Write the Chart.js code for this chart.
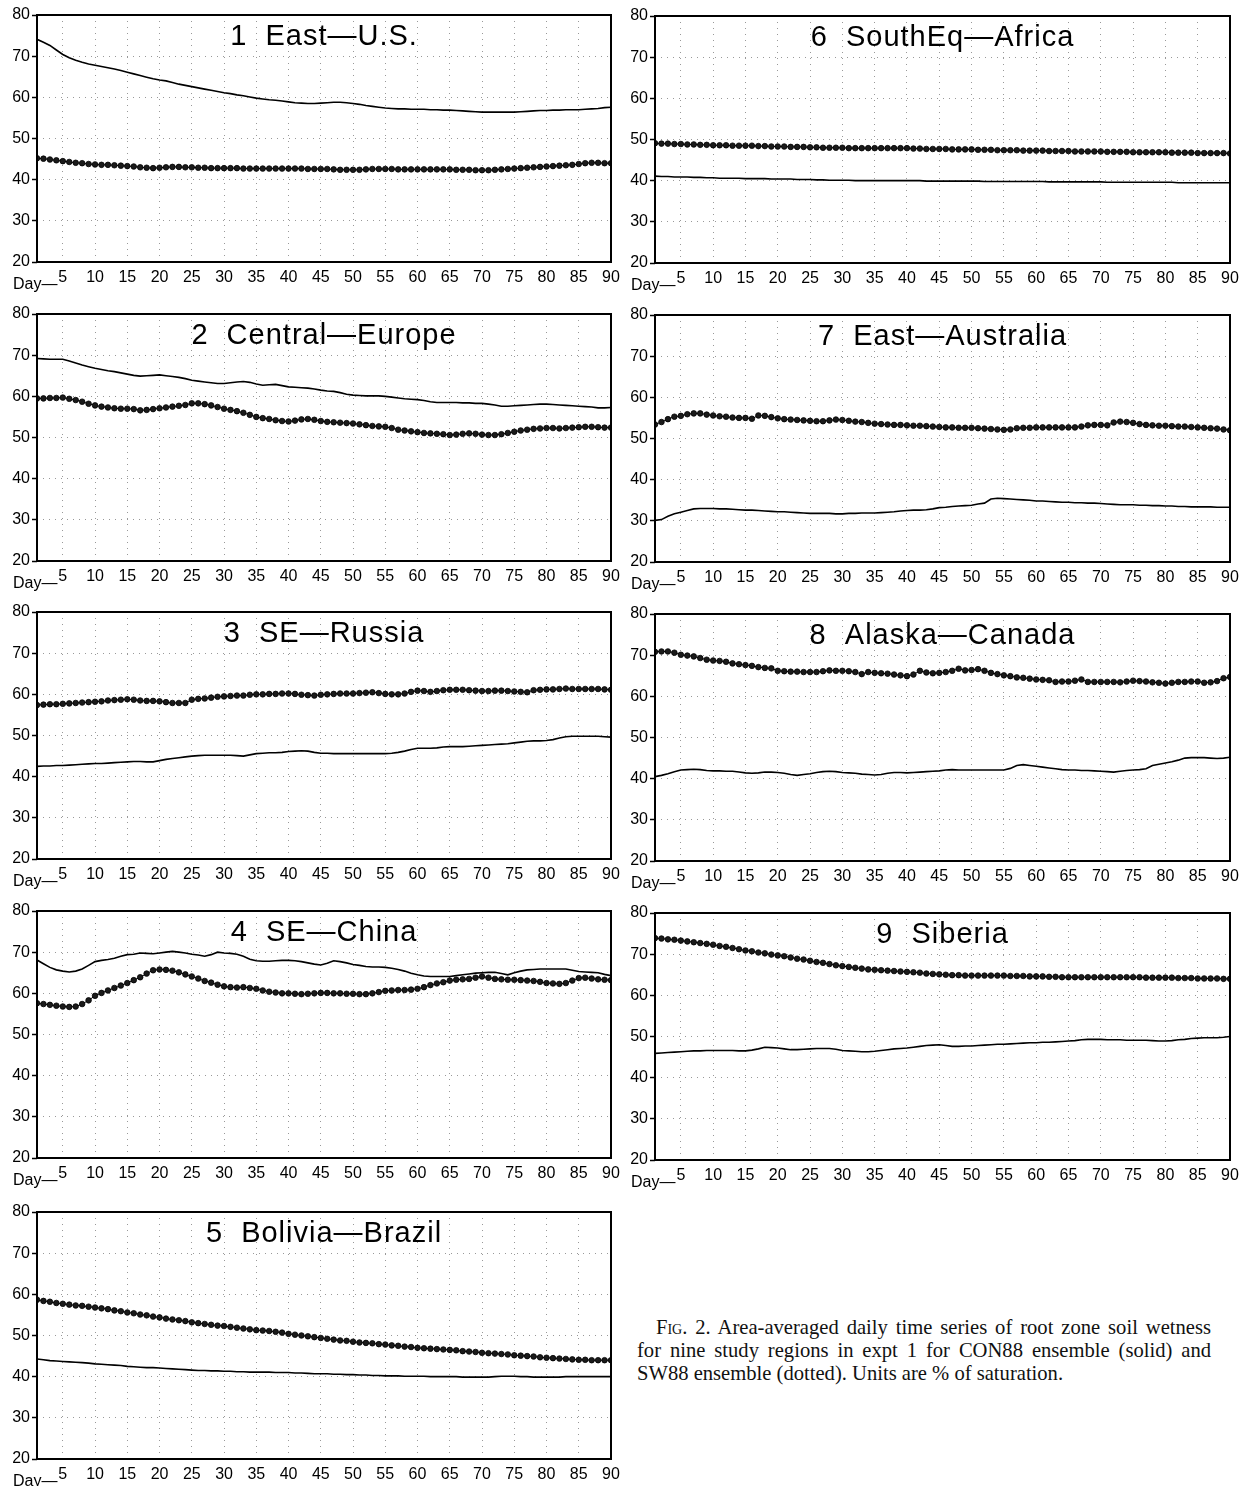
<!DOCTYPE html>
<html>
<head>
<meta charset="utf-8">
<script src="https://cdn.jsdelivr.net/npm/chart.js@4.4.1/dist/chart.umd.min.js"></script>
<style>
  body { margin: 0; background: #fff; }
  #page { position: relative; width: 1248px; height: 1486px; overflow: hidden; background: #fff; }
  #page canvas { position: absolute; }
  #caption {
    position: absolute; left: 637px; top: 1316px; width: 574px;
    font-family: "Liberation Serif", "Times New Roman", serif;
    font-size: 20.6px; line-height: 23px; color: #111;
  }
  #caption .j { text-align: justify; text-align-last: justify; }
  #caption .first { text-indent: 19px; }
  .sc { font-variant: small-caps; }
</style>
</head>
<body>
<div id="page">
  <div id="caption">
    <div class="j first"><span class="sc">Fig.</span> 2. Area-averaged daily time series of root zone soil wetness</div>
    <div class="j">for nine study regions in expt 1 for CON88 ensemble (solid) and</div>
    <div>SW88 ensemble (dotted). Units are % of saturation.</div>
  </div>
</div>
<script>
// x axis: day of the run
const days = Array.from({ length: 90 }, (_, i) => i + 1);
const xTicks = [5, 10, 15, 20, 25, 30, 35, 40, 45, 50, 55, 60, 65, 70, 75, 80, 85, 90];
const yTicks = [20, 30, 40, 50, 60, 70, 80];

const regionNames = ['1  East\u2014U.S.', '2  Central\u2014Europe', '3  SE\u2014Russia', '4  SE\u2014China',
  '5  Bolivia\u2014Brazil', '6  SouthEq\u2014Africa', '7  East\u2014Australia', '8  Alaska\u2014Canada', '9  Siberia'];

// CON88 ensemble (solid) and SW88 ensemble (dotted), % of saturation
const eastUS_con = [
  74.1, 73.4, 72.6, 71.5, 70.4, 69.6, 69.0, 68.5, 68.1, 67.8,
  67.5, 67.2, 66.9, 66.5, 66.1, 65.7, 65.3, 64.9, 64.5, 64.2,
  64.0, 63.6, 63.2, 62.9, 62.6, 62.3, 62.0, 61.7, 61.4, 61.1,
  60.9, 60.6, 60.4, 60.1, 59.8, 59.6, 59.4, 59.3, 59.1, 58.9,
  58.7, 58.6, 58.5, 58.5, 58.6, 58.7, 58.8, 58.8, 58.7, 58.5,
  58.3, 58.0, 57.8, 57.6, 57.4, 57.3, 57.2, 57.2, 57.1, 57.1,
  57.1, 57.0, 57.0, 56.9, 56.9, 56.8, 56.7, 56.6, 56.5, 56.4,
  56.4, 56.4, 56.4, 56.4, 56.4, 56.5, 56.6, 56.7, 56.8, 56.8,
  56.9, 56.9, 57.0, 57.0, 57.0, 57.1, 57.2, 57.3, 57.5, 57.6];
const eastUS_sw = [
  45.2, 45.1, 44.9, 44.7, 44.5, 44.3, 44.1, 44.0, 43.8, 43.7,
  43.6, 43.6, 43.5, 43.4, 43.3, 43.2, 43.0, 42.9, 42.8, 42.9,
  43.0, 43.1, 43.1, 43.0, 43.0, 42.9, 42.9, 42.8, 42.8, 42.8,
  42.8, 42.8, 42.7, 42.7, 42.7, 42.7, 42.7, 42.7, 42.7, 42.7,
  42.7, 42.7, 42.6, 42.6, 42.6, 42.6, 42.5, 42.4, 42.4, 42.4,
  42.4, 42.5, 42.6, 42.6, 42.6, 42.6, 42.5, 42.5, 42.5, 42.5,
  42.5, 42.5, 42.5, 42.5, 42.5, 42.4, 42.4, 42.4, 42.3, 42.3,
  42.3, 42.4, 42.5, 42.6, 42.7, 42.8, 42.9, 43.0, 43.1, 43.2,
  43.3, 43.4, 43.5, 43.6, 43.8, 44.0, 44.1, 44.1, 44.0, 44.0];

const centEur_con = [
  69.2, 69.1, 69.0, 69.0, 69.0, 68.6, 68.1, 67.6, 67.2, 66.8,
  66.5, 66.2, 66.0, 65.7, 65.4, 65.1, 64.9, 65.0, 65.1, 65.2,
  65.0, 64.8, 64.6, 64.3, 63.9, 63.7, 63.5, 63.3, 63.1, 63.1,
  63.3, 63.5, 63.6, 63.4, 63.0, 62.7, 62.8, 62.9, 62.6, 62.3,
  62.2, 62.1, 62.0, 61.8, 61.5, 61.3, 61.2, 60.9, 60.5, 60.3,
  60.2, 60.1, 60.1, 60.1, 60.0, 59.8, 59.6, 59.4, 59.3, 59.2,
  59.0, 58.7, 58.5, 58.5, 58.5, 58.5, 58.4, 58.4, 58.3, 58.3,
  58.1, 57.9, 57.6, 57.6, 57.7, 57.8, 57.9, 58.0, 58.1, 58.1,
  58.0, 57.9, 57.8, 57.7, 57.6, 57.5, 57.4, 57.2, 57.2, 57.3];
const centEur_sw = [
  59.5, 59.5, 59.6, 59.6, 59.7, 59.4, 59.1, 58.7, 58.2, 57.8,
  57.5, 57.3, 57.1, 57.0, 57.0, 56.9, 56.6, 56.7, 56.9, 57.1,
  57.3, 57.5, 57.7, 57.9, 58.3, 58.3, 58.1, 57.8, 57.4, 57.0,
  56.7, 56.4, 56.0, 55.5, 55.0, 54.7, 54.5, 54.2, 54.0, 53.9,
  54.1, 54.4, 54.5, 54.3, 54.0, 53.8, 53.7, 53.6, 53.5, 53.4,
  53.2, 53.0, 52.8, 52.7, 52.6, 52.3, 51.9, 51.7, 51.5, 51.3,
  51.1, 51.0, 50.9, 50.8, 50.6, 50.7, 50.9, 51.0, 50.9, 50.7,
  50.6, 50.6, 50.8, 51.1, 51.4, 51.7, 51.9, 52.1, 52.2, 52.3,
  52.3, 52.2, 52.3, 52.4, 52.5, 52.6, 52.6, 52.5, 52.4, 52.4];

const seRussia_con = [
  42.5, 42.6, 42.6, 42.7, 42.7, 42.8, 42.9, 43.0, 43.1, 43.2,
  43.2, 43.3, 43.4, 43.5, 43.6, 43.7, 43.7, 43.6, 43.6, 43.9,
  44.2, 44.4, 44.6, 44.8, 45.0, 45.1, 45.2, 45.2, 45.2, 45.2,
  45.2, 45.1, 45.0, 45.3, 45.6, 45.7, 45.8, 45.8, 45.9, 46.1,
  46.2, 46.3, 46.2, 45.9, 45.7, 45.7, 45.6, 45.6, 45.6, 45.6,
  45.6, 45.6, 45.6, 45.6, 45.6, 45.7, 45.9, 46.2, 46.6, 46.9,
  46.9, 46.9, 47.0, 47.2, 47.3, 47.3, 47.3, 47.4, 47.5, 47.6,
  47.7, 47.8, 47.9, 48.0, 48.2, 48.4, 48.6, 48.7, 48.7, 48.8,
  49.0, 49.4, 49.7, 49.8, 49.8, 49.8, 49.8, 49.8, 49.7, 49.6];
const seRussia_sw = [
  57.4, 57.5, 57.6, 57.6, 57.7, 57.8, 57.9, 58.0, 58.1, 58.2,
  58.3, 58.5, 58.6, 58.7, 58.8, 58.7, 58.5, 58.4, 58.4, 58.3,
  58.1, 57.9, 57.9, 57.9, 58.7, 58.9, 59.0, 59.2, 59.4, 59.5,
  59.6, 59.7, 59.7, 59.9, 60.0, 60.0, 60.1, 60.1, 60.2, 60.2,
  60.1, 59.9, 59.8, 59.7, 59.9, 60.0, 60.1, 60.2, 60.2, 60.2,
  60.3, 60.4, 60.5, 60.3, 60.1, 60.0, 60.0, 60.2, 60.6, 60.9,
  60.8, 60.6, 60.8, 61.0, 61.1, 61.1, 61.1, 61.0, 60.9, 60.8,
  60.8, 60.9, 60.9, 60.8, 60.7, 60.6, 60.5, 61.0, 61.1, 61.2,
  61.2, 61.3, 61.4, 61.3, 61.3, 61.3, 61.3, 61.3, 61.2, 61.1];

const seChina_con = [
  68.1, 67.2, 66.3, 65.7, 65.4, 65.2, 65.4, 65.9, 66.8, 67.7,
  68.0, 68.2, 68.5, 69.0, 69.4, 69.5, 69.8, 69.7, 69.6, 69.8,
  70.0, 70.2, 70.0, 69.8, 69.5, 69.3, 69.0, 69.4, 70.0, 69.8,
  69.7, 69.5, 69.0, 68.3, 67.9, 67.8, 67.8, 67.9, 68.0, 68.0,
  67.9, 67.7, 67.4, 67.1, 66.9, 67.3, 67.9, 67.7, 67.4, 67.0,
  66.8, 66.5, 66.4, 66.4, 66.3, 66.1, 65.8, 65.4, 64.9, 64.5,
  64.2, 64.1, 64.1, 64.1, 64.1, 64.3, 64.5, 64.7, 64.9, 65.0,
  65.1, 65.1, 64.8, 64.5, 65.0, 65.4, 65.7, 65.8, 65.9, 65.9,
  65.9, 65.9, 65.9, 65.6, 65.3, 65.2, 65.1, 65.0, 64.6, 64.3];
const seChina_sw = [
  57.6, 57.4, 57.2, 57.0, 56.8, 56.7, 56.8, 57.4, 58.3, 59.4,
  60.1, 60.7, 61.3, 61.9, 62.5, 63.2, 63.9, 64.8, 65.6, 65.8,
  65.7, 65.5, 65.1, 64.6, 64.1, 63.6, 63.0, 62.6, 62.1, 61.7,
  61.5, 61.4, 61.5, 61.3, 61.1, 60.7, 60.4, 60.2, 60.0, 60.0,
  59.9, 59.8, 59.9, 60.0, 60.1, 60.1, 60.0, 60.0, 59.9, 59.9,
  59.8, 59.8, 60.0, 60.3, 60.6, 60.7, 60.8, 60.8, 60.9, 61.1,
  61.5, 62.0, 62.4, 62.7, 63.1, 63.3, 63.4, 63.5, 63.8, 64.1,
  63.8, 63.5, 63.4, 63.3, 63.3, 63.2, 63.1, 63.0, 62.8, 62.5,
  62.4, 62.3, 62.5, 63.1, 63.7, 63.8, 63.6, 63.4, 63.3, 63.2];

const bolBraz_con = [
  44.3, 44.1, 43.9, 43.8, 43.7, 43.6, 43.5, 43.4, 43.3, 43.1,
  43.0, 42.9, 42.8, 42.7, 42.5, 42.4, 42.3, 42.2, 42.2, 42.1,
  42.0, 41.9, 41.8, 41.7, 41.6, 41.5, 41.5, 41.4, 41.4, 41.3,
  41.3, 41.2, 41.2, 41.1, 41.1, 41.1, 41.1, 41.0, 41.0, 41.0,
  40.9, 40.9, 40.8, 40.7, 40.7, 40.7, 40.6, 40.6, 40.5, 40.5,
  40.4, 40.4, 40.3, 40.3, 40.2, 40.2, 40.2, 40.1, 40.1, 40.1,
  40.1, 40.0, 40.0, 40.0, 40.0, 40.0, 39.9, 39.9, 39.9, 39.9,
  39.9, 40.0, 40.1, 40.1, 40.1, 40.0, 40.0, 39.9, 39.9, 39.9,
  39.9, 39.9, 40.0, 40.0, 40.0, 40.0, 40.0, 40.0, 40.0, 40.0];
const bolBraz_sw = [
  58.7, 58.4, 58.2, 57.9, 57.7, 57.5, 57.3, 57.2, 57.0, 56.8,
  56.6, 56.4, 56.1, 55.9, 55.6, 55.4, 55.1, 54.9, 54.6, 54.4,
  54.1, 53.9, 53.7, 53.5, 53.2, 53.0, 52.8, 52.6, 52.4, 52.3,
  52.1, 51.9, 51.7, 51.5, 51.3, 51.2, 51.1, 50.9, 50.7, 50.4,
  50.2, 50.0, 49.8, 49.6, 49.4, 49.2, 49.0, 48.8, 48.7, 48.5,
  48.3, 48.2, 48.1, 47.9, 47.8, 47.6, 47.5, 47.3, 47.2, 47.0,
  46.9, 46.8, 46.7, 46.6, 46.5, 46.4, 46.2, 46.1, 46.0, 45.8,
  45.7, 45.6, 45.5, 45.4, 45.2, 45.1, 45.0, 44.9, 44.7, 44.6,
  44.5, 44.4, 44.3, 44.2, 44.1, 44.1, 44.0, 44.0, 44.0, 44.0];

const sEqAfr_con = [
  41.1, 41.0, 41.0, 40.9, 40.9, 40.9, 40.8, 40.8, 40.7, 40.7,
  40.6, 40.6, 40.6, 40.6, 40.5, 40.5, 40.5, 40.5, 40.4, 40.4,
  40.4, 40.4, 40.3, 40.3, 40.3, 40.2, 40.2, 40.1, 40.1, 40.1,
  40.1, 40.0, 40.0, 40.0, 40.0, 40.0, 40.0, 40.0, 40.0, 40.0,
  40.0, 40.0, 39.9, 39.9, 39.9, 39.9, 39.9, 39.9, 39.9, 39.9,
  39.9, 39.8, 39.8, 39.8, 39.8, 39.8, 39.8, 39.8, 39.8, 39.8,
  39.8, 39.7, 39.7, 39.7, 39.7, 39.7, 39.7, 39.7, 39.7, 39.7,
  39.6, 39.6, 39.6, 39.6, 39.6, 39.6, 39.6, 39.6, 39.6, 39.6,
  39.6, 39.5, 39.5, 39.5, 39.5, 39.5, 39.5, 39.5, 39.5, 39.5];
const sEqAfr_sw = [
  49.1, 49.0, 49.0, 48.9, 48.9, 48.8, 48.8, 48.7, 48.7, 48.6,
  48.6, 48.6, 48.5, 48.5, 48.5, 48.5, 48.4, 48.4, 48.3, 48.3,
  48.3, 48.2, 48.2, 48.2, 48.1, 48.1, 48.0, 48.0, 48.0, 48.0,
  47.9, 47.9, 47.9, 47.9, 47.9, 47.9, 47.9, 47.9, 47.9, 47.9,
  47.8, 47.8, 47.7, 47.7, 47.7, 47.7, 47.6, 47.6, 47.6, 47.6,
  47.5, 47.5, 47.5, 47.4, 47.4, 47.4, 47.4, 47.3, 47.3, 47.3,
  47.3, 47.2, 47.2, 47.2, 47.2, 47.1, 47.1, 47.1, 47.1, 47.1,
  47.0, 47.0, 47.0, 47.0, 46.9, 46.9, 46.9, 46.9, 46.9, 46.9,
  46.8, 46.8, 46.8, 46.8, 46.7, 46.7, 46.7, 46.7, 46.7, 46.6];

const eAus_con = [
  30.1, 30.3, 31.1, 31.7, 32.1, 32.5, 32.9, 33.0, 33.0, 33.0,
  32.9, 32.9, 32.8, 32.7, 32.6, 32.6, 32.5, 32.4, 32.3, 32.2,
  32.2, 32.1, 32.0, 31.9, 31.8, 31.8, 31.8, 31.8, 31.7, 31.7,
  31.8, 31.8, 31.9, 31.9, 31.9, 32.0, 32.1, 32.2, 32.4, 32.5,
  32.6, 32.6, 32.7, 32.9, 33.2, 33.3, 33.5, 33.6, 33.7, 33.8,
  34.1, 34.3, 35.3, 35.5, 35.4, 35.3, 35.2, 35.1, 35.0, 34.8,
  34.8, 34.7, 34.6, 34.5, 34.5, 34.4, 34.4, 34.3, 34.3, 34.2,
  34.1, 34.0, 33.9, 33.9, 33.9, 33.8, 33.8, 33.7, 33.7, 33.6,
  33.6, 33.5, 33.5, 33.4, 33.4, 33.4, 33.4, 33.3, 33.3, 33.3];
const eAus_sw = [
  53.4, 54.0, 54.7, 55.3, 55.5, 55.9, 56.1, 56.1, 55.8, 55.6,
  55.4, 55.3, 55.1, 55.0, 55.0, 54.8, 55.6, 55.5, 55.2, 54.9,
  54.7, 54.6, 54.5, 54.4, 54.3, 54.2, 54.2, 54.4, 54.6, 54.5,
  54.3, 54.1, 54.0, 53.8, 53.6, 53.5, 53.4, 53.3, 53.3, 53.2,
  53.1, 53.1, 53.0, 52.9, 52.8, 52.7, 52.7, 52.6, 52.6, 52.6,
  52.5, 52.4, 52.3, 52.2, 52.1, 52.2, 52.5, 52.6, 52.6, 52.7,
  52.7, 52.7, 52.7, 52.7, 52.7, 52.7, 52.9, 53.2, 53.3, 53.3,
  53.2, 53.9, 54.1, 54.0, 53.8, 53.5, 53.3, 53.2, 53.1, 53.1,
  53.0, 52.9, 52.9, 52.8, 52.7, 52.6, 52.5, 52.4, 52.2, 52.0];

const alasCan_con = [
  40.5, 40.8, 41.2, 41.7, 42.1, 42.2, 42.3, 42.2, 42.0, 41.9,
  41.9, 41.8, 41.8, 41.6, 41.4, 41.3, 41.4, 41.6, 41.6, 41.5,
  41.3, 41.0, 40.8, 41.0, 41.2, 41.5, 41.7, 41.8, 41.7, 41.5,
  41.4, 41.3, 41.1, 41.0, 40.9, 41.0, 41.3, 41.5, 41.5, 41.4,
  41.5, 41.6, 41.7, 41.8, 41.9, 42.1, 42.2, 42.1, 42.1, 42.1,
  42.1, 42.1, 42.1, 42.1, 42.1, 42.5, 43.2, 43.4, 43.2, 43.0,
  42.8, 42.6, 42.4, 42.2, 42.1, 42.1, 42.0, 42.0, 41.9, 41.8,
  41.7, 41.6, 41.8, 42.0, 42.1, 42.2, 42.4, 43.2, 43.5, 43.8,
  44.1, 44.5, 45.0, 45.1, 45.1, 45.1, 45.0, 44.9, 45.0, 45.2];
const alasCan_sw = [
  70.8, 70.9, 70.9, 70.6, 70.1, 69.9, 69.7, 69.3, 68.9, 68.7,
  68.6, 68.4, 68.0, 67.8, 67.6, 67.4, 67.1, 66.9, 66.8, 66.2,
  66.1, 66.0, 66.0, 65.9, 65.9, 65.9, 66.1, 66.3, 66.2, 66.2,
  66.1, 65.9, 65.4, 65.9, 65.7, 65.6, 65.5, 65.3, 65.1, 64.9,
  65.3, 66.2, 65.8, 65.6, 65.7, 65.9, 66.2, 66.7, 66.3, 66.4,
  66.6, 66.2, 65.7, 65.4, 65.1, 64.9, 64.6, 64.5, 64.3, 64.1,
  64.0, 63.9, 63.5, 63.6, 63.6, 63.8, 64.1, 63.5, 63.5, 63.5,
  63.5, 63.5, 63.4, 63.6, 63.8, 63.7, 63.6, 63.4, 63.3, 63.1,
  63.3, 63.5, 63.5, 63.6, 63.6, 63.3, 63.4, 63.7, 64.4, 64.7];

const siberia_con = [
  45.9, 46.0, 46.1, 46.2, 46.3, 46.4, 46.5, 46.5, 46.6, 46.6,
  46.6, 46.6, 46.6, 46.5, 46.5, 46.7, 47.0, 47.4, 47.3, 47.2,
  47.0, 46.8, 46.8, 46.9, 47.0, 47.1, 47.1, 47.1, 46.9, 46.6,
  46.5, 46.4, 46.3, 46.3, 46.4, 46.6, 46.8, 47.0, 47.1, 47.2,
  47.4, 47.6, 47.8, 47.9, 48.0, 47.8, 47.6, 47.6, 47.7, 47.7,
  47.8, 47.9, 48.0, 48.1, 48.1, 48.2, 48.3, 48.4, 48.5, 48.5,
  48.6, 48.6, 48.7, 48.8, 48.9, 49.0, 49.2, 49.3, 49.3, 49.3,
  49.2, 49.2, 49.2, 49.1, 49.1, 49.1, 49.1, 49.0, 48.9, 48.9,
  49.0, 49.2, 49.3, 49.5, 49.6, 49.7, 49.7, 49.7, 49.8, 50.0];
const siberia_sw = [
  73.9, 73.8, 73.6, 73.5, 73.3, 73.1, 72.9, 72.7, 72.5, 72.3,
  72.0, 71.8, 71.5, 71.2, 70.9, 70.7, 70.4, 70.2, 69.9, 69.7,
  69.5, 69.2, 68.9, 68.7, 68.4, 68.1, 67.9, 67.6, 67.3, 67.1,
  66.9, 66.7, 66.5, 66.3, 66.2, 66.1, 66.0, 65.9, 65.8, 65.7,
  65.6, 65.5, 65.3, 65.2, 65.1, 65.0, 64.9, 64.9, 64.8, 64.8,
  64.8, 64.8, 64.8, 64.8, 64.8, 64.7, 64.7, 64.7, 64.6, 64.6,
  64.6, 64.5, 64.5, 64.4, 64.4, 64.4, 64.4, 64.4, 64.4, 64.4,
  64.4, 64.4, 64.4, 64.4, 64.4, 64.4, 64.3, 64.3, 64.3, 64.3,
  64.3, 64.2, 64.2, 64.2, 64.1, 64.1, 64.1, 64.1, 64.0, 64.0];

const conSeries = [eastUS_con, centEur_con, seRussia_con, seChina_con, bolBraz_con,
  sEqAfr_con, eAus_con, alasCan_con, siberia_con];
const swSeries = [eastUS_sw, centEur_sw, seRussia_sw, seChina_sw, bolBraz_sw,
  sEqAfr_sw, eAus_sw, alasCan_sw, siberia_sw];

// plot-area placement on the page (left, top, width)
const layout = [
  [37, 15, 574], [37, 314, 574], [37, 612, 574], [37, 911, 574], [37, 1212, 574],
  [655, 16, 575], [655, 315, 575], [655, 614, 575], [655, 913, 575]
];

const AXIS_W = 37, AXIS_H = 35, PAD_T = 15, PAD_R = 16, PLOT_H = 247;
const tickFont = { family: '"Liberation Sans", Arial, sans-serif', size: 16 };

const panelDecor = {
  id: 'panelDecor',
  afterDraw(chart, args, opts) {
    const ctx = chart.ctx;
    const a = chart.chartArea;
    ctx.save();
    ctx.strokeStyle = '#000';
    ctx.lineWidth = 2;
    ctx.strokeRect(a.left, a.top, a.right - a.left, a.bottom - a.top);

    ctx.fillStyle = '#000';
    ctx.font = '29px "Liberation Sans", Arial, sans-serif';
    ctx.letterSpacing = '1px';
    ctx.textAlign = 'center';
    ctx.textBaseline = 'middle';
    ctx.fillText(opts.title, (a.left + a.right) / 2, a.top + 22);

    ctx.letterSpacing = '0px';
    ctx.font = '16px "Liberation Sans", Arial, sans-serif';
    ctx.textAlign = 'left';
    ctx.textBaseline = 'alphabetic';
    ctx.fillText('Day\u2014', a.left - 24, a.bottom + 27);
    ctx.restore();
  }
};

const page = document.getElementById('page');

layout.forEach(function (pos, i) {
    const cv = document.createElement('canvas');
    cv.width = AXIS_W + pos[2] + PAD_R;
    cv.height = PAD_T + PLOT_H + AXIS_H;
    cv.style.left = (pos[0] - AXIS_W) + 'px';
    cv.style.top = (pos[1] - PAD_T) + 'px';
    page.appendChild(cv);

    const solid = days.map((d, k) => ({ x: d, y: conSeries[i][k] }));
    const dotted = days.map((d, k) => ({ x: d, y: swSeries[i][k] }));

    new Chart(cv, {
        type: 'line',
        data: {
            datasets: [{
                data: solid,
                borderColor: '#000',
                borderWidth: 1.6,
                pointRadius: 0
            }, {
                data: dotted,
                borderColor: '#000',
                borderWidth: 1,
                pointRadius: 2.8,
                pointBorderWidth: 0.8,
                pointBackgroundColor: '#1a1a1a',
                pointBorderColor: '#000'
            }]
        },
        options: {
            responsive: false,
            animation: false,
            devicePixelRatio: 1,
            events: [],
            layout: { padding: { top: PAD_T, right: PAD_R, left: 0, bottom: 0 } },
            scales: {
                x: {
                    type: 'linear',
                    min: 1,
                    max: 90,
                    afterBuildTicks: s => { s.ticks = xTicks.map(v => ({ value: v })); },
                    afterFit: s => { s.height = AXIS_H; },
                    ticks: { font: tickFont, color: '#000', padding: 6, maxRotation: 0, autoSkip: false },
                    grid: { color: '#999', lineWidth: 1, drawTicks: false },
                    border: { display: false, dash: [1, 5] }
                },
                y: {
                    min: 20,
                    max: 80,
                    afterBuildTicks: s => { s.ticks = yTicks.map(v => ({ value: v })); },
                    afterFit: s => { s.width = AXIS_W; },
                    ticks: { font: tickFont, color: '#000', padding: 2 },
                    grid: {
                        color: '#999', lineWidth: 1,
                        tickLength: 5, tickColor: '#000', tickBorderDash: [], tickWidth: 1.5
                    },
                    border: { display: false, dash: [1, 5] }
                }
            },
            plugins: {
                legend: { display: false },
                tooltip: { enabled: false },
                panelDecor: { title: regionNames[i] }
            }
        },
        plugins: [panelDecor]
    });
});
</script>
</body>
</html>
